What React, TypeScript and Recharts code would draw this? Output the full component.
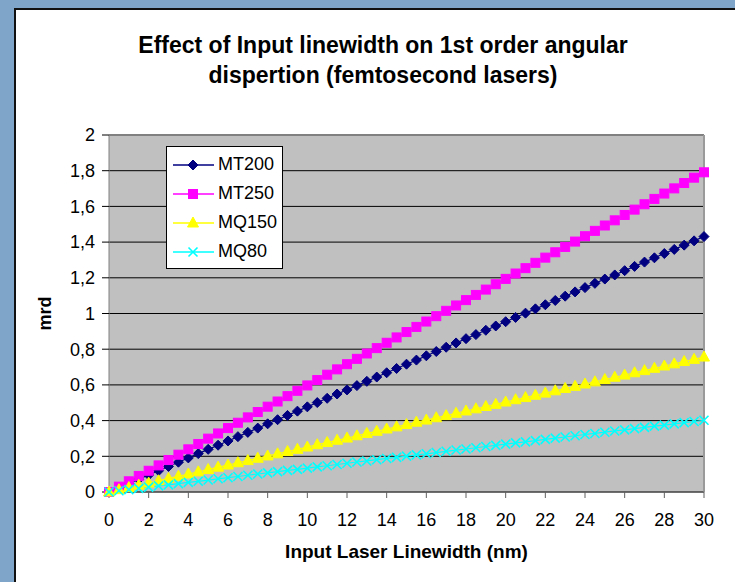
import React from 'react';
import { LineChart, Line, XAxis, YAxis, CartesianGrid, ReferenceLine } from 'recharts';

// input linewidth (nm)
const linewidths = [
  0, 0.5, 1, 1.5, 2, 2.5, 3, 3.5, 4, 4.5, 5, 5.5, 6, 6.5, 7, 7.5, 8, 8.5, 9, 9.5,
  10, 10.5, 11, 11.5, 12, 12.5, 13, 13.5, 14, 14.5, 15, 15.5, 16, 16.5, 17, 17.5, 18, 18.5, 19, 19.5,
  20, 20.5, 21, 21.5, 22, 22.5, 23, 23.5, 24, 24.5, 25, 25.5, 26, 26.5, 27, 27.5, 28, 28.5, 29, 29.5,
  30,
];

const mt200 = [
  0, 0.024, 0.048, 0.072, 0.095, 0.119, 0.143, 0.167, 0.191, 0.215,
  0.239, 0.262, 0.286, 0.31, 0.334, 0.358, 0.382, 0.405, 0.429, 0.453,
  0.477, 0.501, 0.525, 0.549, 0.572, 0.596, 0.62, 0.644, 0.668, 0.692,
  0.716, 0.739, 0.763, 0.787, 0.811, 0.835, 0.859, 0.882, 0.906, 0.93,
  0.954, 0.978, 1.002, 1.026, 1.049, 1.073, 1.097, 1.121, 1.145, 1.169,
  1.193, 1.216, 1.24, 1.264, 1.288, 1.312, 1.336, 1.359, 1.383, 1.407,
  1.431,
];

const mt250 = [
  0, 0.03, 0.06, 0.09, 0.119, 0.149, 0.179, 0.209, 0.239, 0.269,
  0.299, 0.328, 0.358, 0.388, 0.418, 0.448, 0.478, 0.507, 0.537, 0.567,
  0.597, 0.627, 0.657, 0.687, 0.716, 0.746, 0.776, 0.806, 0.836, 0.866,
  0.896, 0.925, 0.955, 0.985, 1.015, 1.045, 1.075, 1.104, 1.134, 1.164,
  1.194, 1.224, 1.254, 1.284, 1.313, 1.343, 1.373, 1.403, 1.433, 1.463,
  1.493, 1.522, 1.552, 1.582, 1.612, 1.642, 1.672, 1.701, 1.731, 1.761,
  1.791,
];

const mq150 = [
  0, 0.013, 0.025, 0.038, 0.05, 0.063, 0.076, 0.088, 0.101, 0.113,
  0.126, 0.139, 0.151, 0.164, 0.176, 0.189, 0.202, 0.214, 0.227, 0.239,
  0.252, 0.265, 0.277, 0.29, 0.302, 0.315, 0.328, 0.34, 0.353, 0.365,
  0.378, 0.391, 0.403, 0.416, 0.428, 0.441, 0.454, 0.466, 0.479, 0.491,
  0.504, 0.517, 0.529, 0.542, 0.554, 0.567, 0.58, 0.592, 0.605, 0.617,
  0.63, 0.643, 0.655, 0.668, 0.68, 0.693, 0.706, 0.718, 0.731, 0.743,
  0.756,
];

const mq80 = [
  0, 0.007, 0.013, 0.02, 0.027, 0.034, 0.04, 0.047, 0.054, 0.06,
  0.067, 0.074, 0.08, 0.087, 0.094, 0.101, 0.107, 0.114, 0.121, 0.127,
  0.134, 0.141, 0.147, 0.154, 0.161, 0.168, 0.174, 0.181, 0.188, 0.194,
  0.201, 0.208, 0.214, 0.221, 0.228, 0.235, 0.241, 0.248, 0.255, 0.261,
  0.268, 0.275, 0.281, 0.288, 0.295, 0.302, 0.308, 0.315, 0.322, 0.328,
  0.335, 0.342, 0.348, 0.355, 0.362, 0.369, 0.375, 0.382, 0.389, 0.395,
  0.402,
];

const xTicks = [0, 2, 4, 6, 8, 10, 12, 14, 16, 18, 20, 22, 24, 26, 28, 30];
const yTicks = [0, 0.2, 0.4, 0.6, 0.8, 1, 1.2, 1.4, 1.6, 1.8, 2];

const FONT = '"Liberation Sans", Arial, sans-serif';

type Shape = 'diamond' | 'square' | 'triangle' | 'cross';

const series: { key: string; name: string; color: string; shape: Shape }[] = [
  { key: 'mt200', name: 'MT200', color: '#000080', shape: 'diamond' },
  { key: 'mt250', name: 'MT250', color: '#ff00ff', shape: 'square' },
  { key: 'mq150', name: 'MQ150', color: '#ffff00', shape: 'triangle' },
  { key: 'mq80', name: 'MQ80', color: '#00ffff', shape: 'cross' },
];

const chartData = linewidths.map((x, i) => ({
  x,
  mt200: mt200[i],
  mt250: mt250[i],
  mq150: mq150[i],
  mq80: mq80[i],
}));

function marker(shape: Shape, color: string, cx: number, cy: number, key?: string) {
  if (shape === 'diamond') {
    return <path key={key} d={`M${cx},${cy - 5}L${cx + 5},${cy}L${cx},${cy + 5}L${cx - 5},${cy}Z`} fill={color} stroke={color} />;
  }
  if (shape === 'square') {
    return <rect key={key} x={cx - 4.5} y={cy - 4.5} width={9} height={9} fill={color} stroke={color} />;
  }
  if (shape === 'triangle') {
    return <path key={key} d={`M${cx},${cy - 6}L${cx + 5.5},${cy + 4}L${cx - 5.5},${cy + 4}Z`} fill={color} stroke={color} />;
  }
  return (
    <path key={key} d={`M${cx - 4.5},${cy - 4.5}L${cx + 4.5},${cy + 4.5}M${cx + 4.5},${cy - 4.5}L${cx - 4.5},${cy + 4.5}`} stroke={color} strokeWidth={1.6} fill="none" />
  );
}

const formatComma = (v: number) => String(Math.round(v * 10) / 10).replace('.', ',');

function LegendBox() {
  return (
    <div
      style={{
        position: 'absolute',
        left: 166,
        top: 146,
        width: 115,
        height: 118,
        border: '1px solid #000',
        background: '#fff',
        fontFamily: FONT,
        fontSize: 18,
        paddingTop: 3,
      }}
    >
      {series.map(s => (
        <div key={s.key} style={{ display: 'flex', alignItems: 'center', height: 29 }}>
          <svg width={46} height={16} style={{ marginLeft: 5, flex: 'none' }}>
            <line x1={1} y1={8} x2={42} y2={8} stroke={s.color} strokeWidth={1.5} />
            {marker(s.shape, s.color, 21, 8)}
          </svg>
          <span style={{ marginLeft: 0, color: '#000' }}>{s.name}</span>
        </div>
      ))}
    </div>
  );
}

export default function App() {
  return (
    <div style={{ position: 'absolute', left: 0, top: 0, width: 735, height: 582, background: '#7fa5c8', overflow: 'hidden' }}>
      <div
        style={{
          position: 'absolute',
          left: 14,
          top: 8,
          width: 721,
          height: 574,
          background: '#fff',
          borderLeft: '2px solid #111',
          borderTop: '2px solid #111',
        }}
      />
      <div
        style={{
          position: 'absolute',
          left: 0,
          width: 766,
          top: 30,
          textAlign: 'center',
          fontFamily: FONT,
          fontWeight: 'bold',
          fontSize: 23,
          lineHeight: '30px',
          color: '#000',
        }}
      >
        Effect of Input linewidth on 1st order angular
        <br />
        dispertion (femtosecond lasers)
      </div>
      <div style={{ position: 'absolute', left: 0, top: 0 }}>
        <LineChart
          width={735}
          height={582}
          data={chartData}
          margin={{ top: 135, right: 31, left: 49, bottom: 40 }}
        >
          <CartesianGrid fill="#c0c0c0" stroke="#000" vertical={false} horizontalValues={yTicks} />
          <XAxis
            dataKey="x"
            type="number"
            domain={[0, 30]}
            ticks={xTicks}
            interval={0}
            height={50}
            tickSize={6}
            tickMargin={15}
            stroke="#606060"
            tick={{ fill: '#000', fontSize: 18, fontFamily: FONT }}
            tickLine={{ stroke: '#606060' }}
            label={{ value: 'Input Laser Linewidth (nm)', position: 'insideBottom', offset: -16, style: { fill: '#000', fontWeight: 'bold', fontSize: 19, fontFamily: FONT } }}
          />
          <YAxis
            type="number"
            domain={[0, 2]}
            ticks={yTicks}
            interval={0}
            width={60}
            tickSize={7}
            tickMargin={7}
            stroke="#808080"
            tickFormatter={formatComma}
            tick={{ fill: '#000', fontSize: 18, fontFamily: FONT }}
            tickLine={{ stroke: '#000' }}
            label={{ value: 'mrd', angle: -90, position: 'insideLeft', offset: -4, style: { fill: '#000', fontWeight: 'bold', fontSize: 18, fontFamily: FONT, textAnchor: 'middle' } }}
          />
          <ReferenceLine y={2} stroke="#808080" strokeWidth={2} />
          <ReferenceLine x={30} stroke="#9a9a9a" strokeWidth={2} />
          {series.map(s => (
            <Line
              key={s.key}
              type="linear"
              dataKey={s.key}
              name={s.name}
              stroke={s.color}
              strokeWidth={1.2}
              isAnimationActive={false}
              dot={(p: any) => marker(s.shape, s.color, p.cx, p.cy, `${s.key}-${p.index}`)}
              activeDot={false}
            />
          ))}
        </LineChart>
      </div>
      <LegendBox />
    </div>
  );
}
